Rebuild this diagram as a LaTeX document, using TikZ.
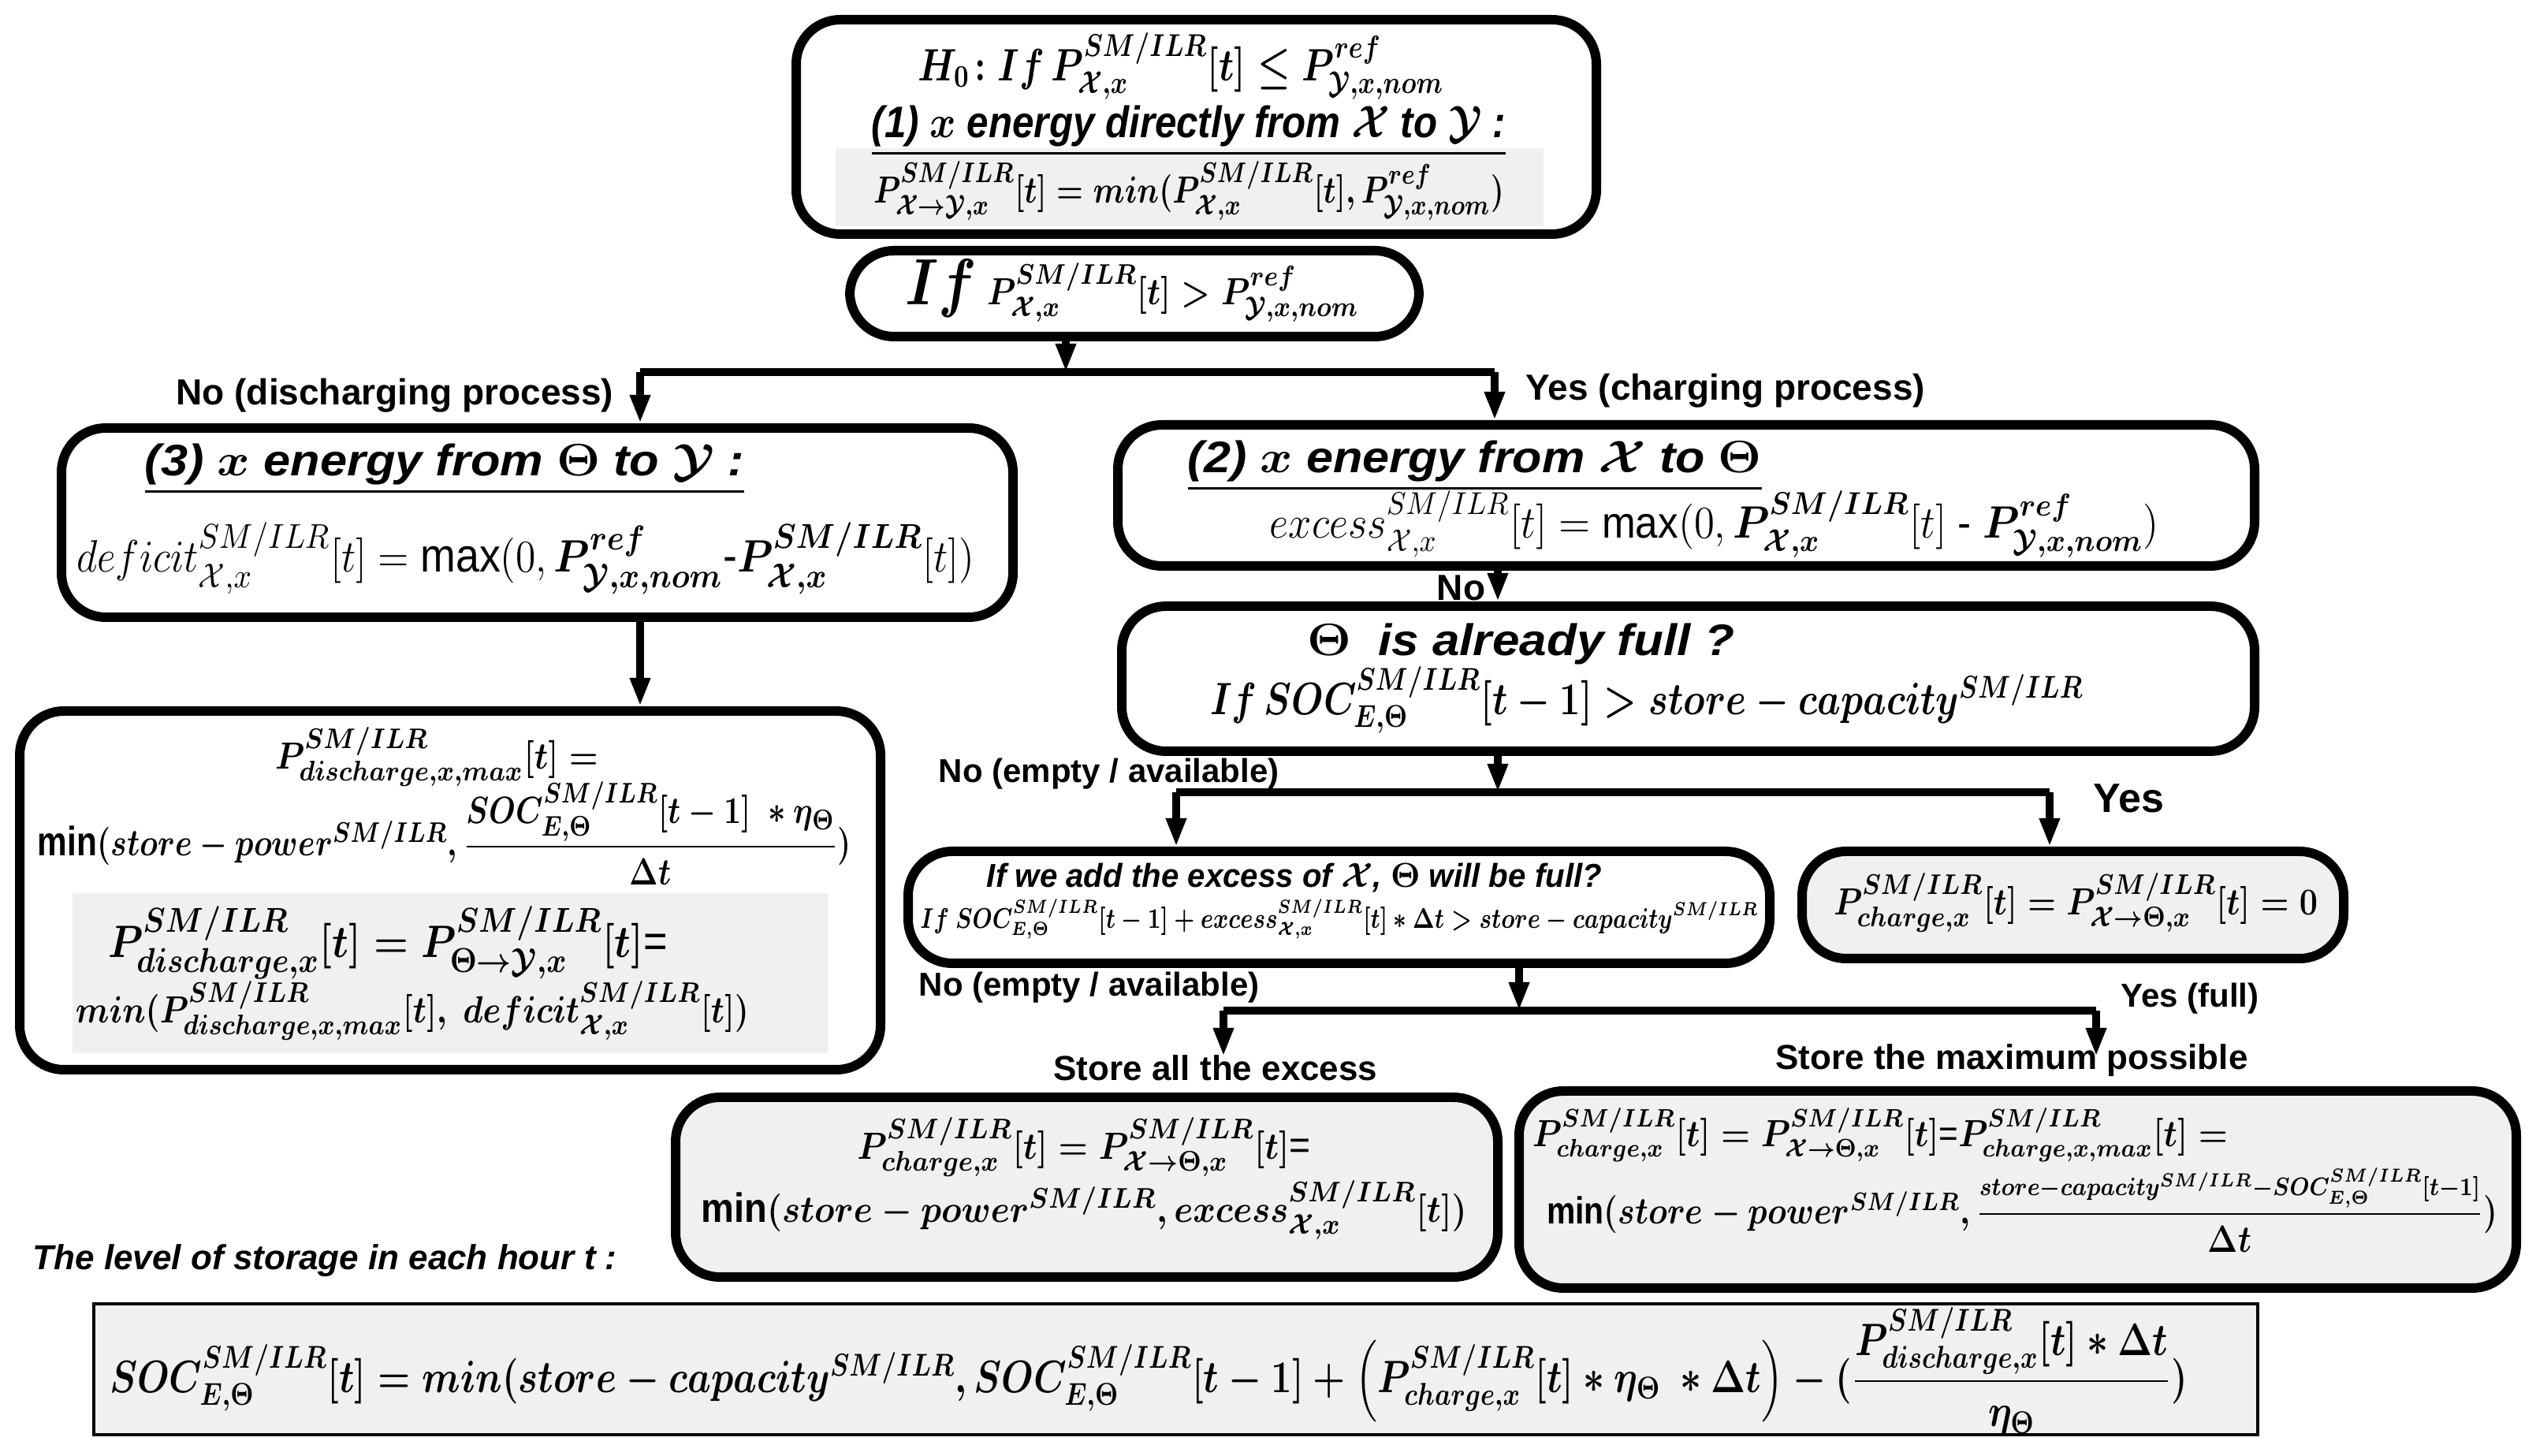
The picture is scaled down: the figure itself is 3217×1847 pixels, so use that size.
\documentclass[tikz,border=0pt]{standalone}
\usepackage{amsmath,bm,graphicx}
\usepackage{fontspec}
\setmainfont{Liberation Sans}
\usetikzlibrary{arrows.meta,fit}
\newcommand\SMI{SM/ILR}
\newcommand\cX{\mathcal{X}}
\newcommand\cY{\mathcal{Y}}
\newcommand\fw[2]{\resizebox{#1pt}{\height}{\boldmath#2}}
\newcommand\fwn[2]{\resizebox{#1pt}{\height}{#2}}
\begin{document}
\begin{tikzpicture}[x=0.25pt,y=-0.25pt,
  box/.style={draw,line width=3pt,rounded corners=14pt,inner sep=0pt},
  gbox/.style={box,fill=black!6},
  band/.style={fill=black!6,inner sep=0pt},
  math/.style={font=\fontsize{13}{15}\selectfont, inner sep=0pt},
  lbl/.style={font=\fontsize{11.5}{13}\selectfont\bfseries, inner sep=0pt},
  ttl/.style={font=\fontsize{14}{16}\selectfont\bfseries\itshape, inner sep=0pt},
  con/.style={line width=2.4pt},
  arr/.style={con,-{Triangle[length=9pt,width=6pt]}}]
\useasboundingbox (0,0) rectangle (3217,1847);
% boxes
\node[box,fit={(1010,25)(2025,297)}] (h0) {};
\node[band,fit={(1060,188)(1958,287)}] (h0b) {};
\node[box,fit={(1078,318)(1800,427)}] (ifb) {};
\node[box,fit={(78,543)(1285,783)}] (b3) {};
\node[box,fit={(1418,539)(2860,718)}] (b2) {};
\node[box,fit={(25,902)(1117,1357)}] (bd) {};
\node[band,fit={(92,1133)(1050,1336)}] (bdb) {};
\node[box,fit={(1423,769)(2860,953)}] (bt) {};
\node[box,fit={(1152,1080)(2245,1222)}] (badd) {};
\node[gbox,fit={(2286,1080)(2973,1216)}] (bz) {};
\node[gbox,fit={(857,1392)(1900,1620)}] (bsa) {};
\node[gbox,fit={(1927,1384)(3192,1634)}] (bsm) {};
\node[draw,line width=1.2pt,fill=black!6,inner sep=0pt,fit={(119,1654)(2864,1820)}] (bot) {};
% texts
\node[math,font=\fontsize{14}{16}\selectfont] at (1498,84) {\fw{166.8}{$H_0\!:If\,P^{\SMI}_{\cX,x}[t]\le P^{ref}_{\cY,x,nom}$}};
\node[ttl] at (1508,166) {\fw{201}{\underline{(1) $x$ energy directly from $\cX$ to $\cY$ :}}};
\node[math] at (1508,242) {\fw{200}{$P^{\SMI}_{\cX\to\cY,x}[t]=min(P^{\SMI}_{\cX,x}[t],P^{ref}_{\cY,x,nom})$}};
\node[math] at (1436,369) {\fw{143.8}{$\text{\fontsize{22}{24}\selectfont$If$}\;P^{\SMI}_{\cX,x}[t]>P^{ref}_{\cY,x,nom}$}};
\node[ttl] at (564,595) {\fw{190}{\underline{(3) $x$ energy from $\Theta$ to $\cY$ :}}};
\node[font=\fontsize{15}{17}\selectfont,inner sep=0pt] at (667,708) {\fwn{284.8}{$deficit^{\SMI}_{\cX,x}[t]=\max(0,\bm{P^{ref}_{\cY,x,nom}}\text{-}\bm{P^{\SMI}_{\cX,x}}[t])$}};
\node[ttl] at (1871,591) {\fw{182}{\underline{(2) $x$ energy from $\cX$ to $\Theta$}}};
\node[font=\fontsize{14}{16}\selectfont,inner sep=0pt] at (2175,665) {\fwn{282}{$excess^{\SMI}_{\cX,x}[t]=\max(0,\bm{P^{\SMI}_{\cX,x}}[t]\text{ - }\bm{P^{ref}_{\cY,x,nom}})$}};
\node[ttl] at (1929,817) {\fw{135.5}{$\Theta$~ is already full ?}};
\node[math,font=\fontsize{14}{16}\selectfont] at (2089,888) {\fw{277}{$If\,SOC^{\SMI}_{E,\Theta}[t-1]>store-capacity^{\SMI}$}};
\node[math] at (554,960) {\fw{102.5}{$P^{\SMI}_{discharge,x,max}[t]=$}};
\node[math] at (564,1057) {\fw{258}{$\mathrm{min}(store-power^{\SMI},\dfrac{SOC^{\SMI}_{E,\Theta}[t-1]\ *\eta_\Theta}{\Delta t})$}};
\node[math,font=\fontsize{15}{17}\selectfont] at (492,1196) {\fw{177.5}{$P^{\SMI}_{discharge,x}[t]=P^{\SMI}_{\Theta\to\cY,x}[t]\text{=}$}};
\node[math] at (523,1282) {\fw{213.5}{$min(P^{\SMI}_{discharge,x,max}[t],\ deficit^{\SMI}_{\cX,x}[t])$}};
\node[ttl,font=\fontsize{10.5}{12}\selectfont\bfseries\itshape] at (1642,1114) {\fw{195}{If we add the excess of $\cX$, $\Theta$ will be full?}};
\node[math,font=\fontsize{9}{10}\selectfont] at (1699,1166) {\fw{265.8}{$If\ SOC^{\SMI}_{E,\Theta}[t-1]+excess^{\SMI}_{\cX,x}[t]*\Delta t>store-capacity^{\SMI}$}};
\node[math] at (2633,1145) {\fw{153.5}{$P^{\SMI}_{charge,x}[t]=P^{\SMI}_{\cX\to\Theta,x}[t]=0$}};
\node[math] at (1375,1455) {\fw{143.8}{$P^{\SMI}_{charge,x}[t]=P^{\SMI}_{\cX\to\Theta,x}[t]\text{=}$}};
\node[math] at (1375,1535) {\fw{242.8}{$\mathrm{min}(store-power^{\SMI},excess^{\SMI}_{\cX,x}[t])$}};
\node[math,font=\fontsize{12}{14}\selectfont] at (2385,1440) {\fw{220.5}{$P^{\SMI}_{charge,x}[t]=P^{\SMI}_{\cX\to\Theta,x}[t]\text{=}P^{\SMI}_{charge,x,max}[t]=$}};
\node[math,font=\fontsize{12}{14}\selectfont] at (2565,1535) {\fw{301.5}{$\mathrm{min}(store-power^{\SMI},\dfrac{\scriptstyle store-capacity^{\SMI}-SOC^{\SMI}_{E,\Theta}[t-1]}{\Delta t})$}};
\node[math,font=\fontsize{14}{16}\selectfont] at (1457,1740) {\fw{659}{$SOC^{\SMI}_{E,\Theta}[t]=min(store-capacity^{\SMI},SOC^{\SMI}_{E,\Theta}[t-1]+\Big(P^{\SMI}_{charge,x}[t]*\eta_\Theta\ *\Delta t\Big)-(\dfrac{P^{\SMI}_{discharge,x}[t]*\Delta t}{\eta_\Theta})$}};
% labels
\node[lbl,anchor=east] at (779,502) {No (discharging process)};
\node[lbl,anchor=west] at (1935,496) {Yes (charging process)};
\node[lbl,anchor=east] at (1885,746) {No};
\node[lbl,font=\fontsize{10.5}{12}\selectfont\bfseries,anchor=west] at (1190,982) {No (empty / available)};
\node[lbl,font=\fontsize{13}{15}\selectfont\bfseries,anchor=west] at (2655,1013) {Yes};
\node[lbl,font=\fontsize{10.5}{12}\selectfont\bfseries,anchor=west] at (1165,1253) {No (empty / available)};
\node[lbl,font=\fontsize{10.5}{12}\selectfont\bfseries] at (2778,1267) {Yes (full)};
\node[lbl,font=\fontsize{11}{13}\selectfont\bfseries] at (1542,1355) {Store all the excess};
\node[lbl,font=\fontsize{11}{13}\selectfont\bfseries] at (2552,1345) {Store the maximum possible};
\node[lbl,font=\fontsize{11}{13}\selectfont\bfseries\itshape,anchor=west] at (41,1599) {The level of storage in each hour t :};
% connectors
\coordinate (j1) at (1352,472);
\coordinate (j1l) at (812,472);
\coordinate (j1r) at (1896,472);
\draw[arr] (ifb.south -| j1) -- (j1);
\draw[con] (j1l) -- (j1r);
\draw[arr] (j1l) -- (j1l |- b3.north);
\draw[arr] (j1r) -- (j1r |- b2.north);
\draw[arr] (b3.south -| j1l) -- (j1l |- bd.north);
\draw[arr] (b2.south -| 1900,0) -- (bt.north -| 1900,0);
\coordinate (j2) at (1900,1005);
\coordinate (j2l) at (1492,1005);
\coordinate (j2r) at (2600,1005);
\draw[arr] (bt.south -| j2) -- (j2);
\draw[con] (j2l) -- (j2r);
\draw[arr] (j2l) -- (j2l |- badd.north);
\draw[arr] (j2r) -- (j2r |- bz.north);
\coordinate (j3) at (1927,1282);
\coordinate (j3l) at (1552,1282);
\coordinate (j3r) at (2659,1282);
\draw[arr] (badd.south -| j3) -- (j3);
\draw[con] (j3l) -- (j3r);
\draw[arr] (j3l) -- (1552,1340);
\draw[arr] (j3r) -- (2659,1340);
\end{tikzpicture}
\end{document}
